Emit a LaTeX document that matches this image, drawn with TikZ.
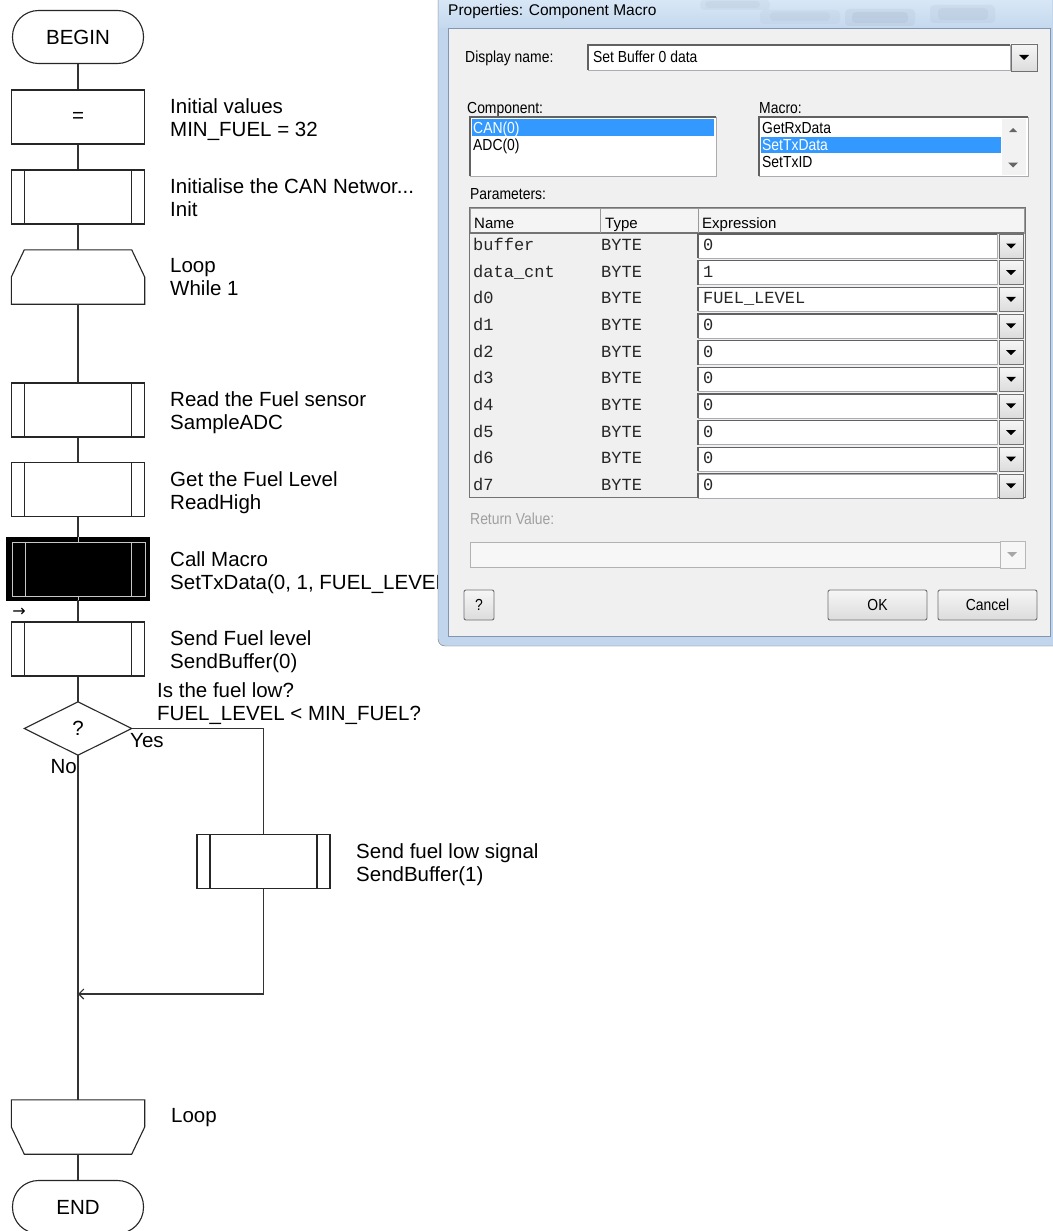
\documentclass[tikz,border=0pt]{standalone}
\usepackage{fontspec}
\setmainfont{Liberation Sans}
\newfontfamily\dlgfont[FakeStretch=0.87]{Liberation Sans}
\newfontfamily\dlgmono{Liberation Mono}
\newfontfamily\symfont{DejaVu Sans}
\usetikzlibrary{arrows.meta}
\definecolor{selblue}{RGB}{51,153,255}
\definecolor{clientbg}{RGB}{240,240,240}
\definecolor{frameA}{RGB}{193,214,236}
\definecolor{titleA}{RGB}{216,231,246}
\definecolor{titleB}{RGB}{196,216,238}
\definecolor{blotch}{RGB}{120,135,155}
\definecolor{clientedge}{RGB}{130,150,175}
\definecolor{btnA}{RGB}{246,246,246}
\definecolor{btnB}{RGB}{220,220,220}
\definecolor{btnedge}{RGB}{112,112,112}
\definecolor{fieldedge}{RGB}{170,172,178}
\definecolor{disabledtxt}{RGB}{160,160,160}
\definecolor{hdrbg}{RGB}{244,244,244}
\newcommand\dlgSunken[4]{\draw[draw=fieldedge, fill=white] (#1,#2) rectangle (#3,#4);
  \draw[draw=black!62, line width=1.2pt] (#1,#4) -- (#1,#2) -- (#3,#2);}
\newcommand\dlgRaised[4]{\draw[draw=btnedge, top color=btnA, bottom color=btnB] (#1,#2) rectangle (#3,#4);}
\newcommand\dlgDown[3]{\fill[#3] (#1-5,#2-2.5) -- (#1+5,#2-2.5) -- (#1,#2+2.5) -- cycle;}
\newcommand\dlgUp[3]{\fill[#3] (#1-4,#2+2) -- (#1+4,#2+2) -- (#1,#2-2) -- cycle;}
\begin{document}
\begin{tikzpicture}[x=1pt,y=-1pt,
  fc/.style={draw=black!85, line width=1.1pt},
  conn/.style={draw=black!80, line width=1.1pt},
  ffont/.style={font=\fontsize{20.5}{23}\selectfont},
  term/.style={fc, ffont, rounded corners=26pt, minimum width=131pt, minimum height=53pt, inner sep=0pt},
  procbox/.style={fc, ffont, minimum width=133pt, minimum height=54pt, inner sep=0pt},
  subbox/.style={procbox, path picture={
      \draw[line width=1.1pt, draw=black!85] ([xshift=13pt]path picture bounding box.north west) -- ([xshift=13pt]path picture bounding box.south west);
      \draw[line width=1.1pt, draw=black!85] ([xshift=-13pt]path picture bounding box.north east) -- ([xshift=-13pt]path picture bounding box.south east);}},
  blank/.style={minimum width=133pt, minimum height=54pt, inner sep=0pt, ffont},
  lbl/.style={anchor=base west, inner sep=0pt, ffont},
  callin/.style={draw=black!22, line width=1pt},
  dlbl/.style={anchor=base west, inner sep=0pt, font=\dlgfont\fontsize{16}{19}\selectfont},
  mono/.style={anchor=base west, inner sep=0pt, text=black!85, font=\dlgmono\fontsize{17}{20}\selectfont},
  hdr/.style={anchor=base west, inner sep=0pt, font=\fontsize{15}{18}\selectfont},
  btn/.style={draw=btnedge, top color=btnA, bottom color=btnB, rounded corners=2pt, line width=0.9pt,
      font=\dlgfont\fontsize{16}{19}\selectfont, inner sep=0pt, minimum height=30pt},
]
\useasboundingbox (0,0) rectangle (1052,1231);
\fill[white] (0,0) rectangle (1052,1231);

% ---------------- flowchart ----------------
\node[term] (begin) at (78,37) {BEGIN};
\node[procbox] (init) at (78,117) {=};
\node[subbox] (can) at (78,197) {};
\node[blank] (loopS) at (78,277) {};
\draw[fc] ([xshift=13pt]loopS.north west) -- ([xshift=-13pt]loopS.north east) -- (loopS.east)
  -- (loopS.south east) -- (loopS.south west) -- (loopS.west) -- cycle;
\node[subbox] (read) at (78,410) {};
\node[subbox] (get) at (78,489.5) {};
\node[fill=black, draw=black, minimum width=143pt, minimum height=63pt, inner sep=0pt] (call) at (78,568.5) {};
\draw[callin] ([xshift=6pt,yshift=-6pt]call.north west) rectangle ([xshift=-4pt,yshift=4pt]call.south east);
\draw[callin] ([xshift=19pt,yshift=-6pt]call.north west) -- ([xshift=19pt,yshift=4pt]call.south west);
\draw[callin] ([xshift=-18pt,yshift=-6pt]call.north east) -- ([xshift=-18pt,yshift=4pt]call.south east);
\draw[callin] (call.north) -- ++(0,6);
\draw[callin] (call.south) -- ++(0,-4);
\node[subbox] (send) at (78,649) {};
\node[blank, minimum width=107pt, minimum height=53pt] (dec) at (78,728.5) {?};
\draw[fc] (dec.west) -- (dec.north) -- (dec.east) -- (dec.south) -- cycle;
\node[subbox] (low) at (263.5,861.5) {};
\node[blank] (loopE) at (78,1127) {};
\draw[fc] (loopE.north west) -- (loopE.north east) -- (loopE.east)
  -- ([xshift=-13pt]loopE.south east) -- ([xshift=13pt]loopE.south west) -- (loopE.west) -- cycle;
\node[term] (end) at (78,1207) {END};
\coordinate (merge) at (78,994);

\draw[conn] (begin) -- (init);
\draw[conn] (init) -- (can);
\draw[conn] (can) -- (loopS);
\draw[conn] (loopS) -- (read);
\draw[conn] (read) -- (get);
\draw[conn] (get) -- (call);
\draw[conn] (call) -- (send);
\draw[conn] (send) -- (dec.north);
\draw[conn] (dec.east) -| (low.north);
\draw[conn, -{Straight Barb[length=5pt,width=10pt]}] (low.south) |- (merge);
\draw[conn] (dec.south) -- (loopE.north);
\draw[conn] (loopE) -- (end);

\node[inner sep=0pt, font=\symfont\fontsize{16}{16}\selectfont] (mark) at (19,612) {→};

\node[lbl] (l1a) at (170,113) {Initial values};
\node[lbl] (l1b) at (170,136) {MIN\_FUEL = 32};
\node[lbl] (l2a) at (170,193) {Initialise the CAN Networ...};
\node[lbl] (l2b) at (170,216) {Init};
\node[lbl] (l3a) at (170,272) {Loop};
\node[lbl] (l3b) at (170,295) {While 1};
\node[lbl] (l4a) at (170,406) {Read the Fuel sensor};
\node[lbl] (l4b) at (170,429) {SampleADC};
\node[lbl] (l5a) at (170,486) {Get the Fuel Level};
\node[lbl] (l5b) at (170,509) {ReadHigh};
\node[lbl] (l6a) at (170,566) {Call Macro};
\begin{scope}
\clip (0,540) rectangle (438,600);
\node[lbl] (l6b) at (170,589) {SetTxData(0, 1, FUEL\_LEVEL};
\end{scope}
\node[lbl] (l7a) at (170,645) {Send Fuel level};
\node[lbl] (l7b) at (170,668) {SendBuffer(0)};
\node[lbl] (q1) at (157,697) {Is the fuel low?};
\node[lbl] (q2) at (157,720) {FUEL\_LEVEL \textless{} MIN\_FUEL?};
\node[lbl] (yes) at (130,747) {Yes};
\node[lbl, anchor=base east] (no) at (77,773) {No};
\node[lbl] (l8a) at (356,858) {Send fuel low signal};
\node[lbl] (l8b) at (356,881) {SendBuffer(1)};
\node[lbl] (l9) at (171,1122) {Loop};

% ---------------- dialog ----------------
\draw[draw=black!55, fill=frameA, rounded corners=7pt] (438,-20) rectangle (1090,646);
\shade[top color=titleA, bottom color=titleB] (439,0) rectangle (1052,28);
\foreach \bx/\by/\bw/\bh/\op in {700/0/70/10/0.07, 705/1/55/7/0.07, 760/10/80/14/0.06, 770/12/60/9/0.06,
    845/9/70/17/0.09, 852/12/56/11/0.10, 930/5/65/18/0.08, 938/8/50/12/0.08}{
  \fill[blotch, opacity=\op, rounded corners=4pt] (\bx,\by) rectangle ++(\bw,\bh);
}
\node[anchor=base west, inner sep=0pt, font=\fontsize{15.5}{18}\selectfont] (title) at (448,15.5) {Properties: Component Macro};
\draw[draw=clientedge, fill=clientbg] (448,28) rectangle (1050,636);

% display name
\node[dlbl] (dnl) at (465,63) {Display name:};
\dlgSunken{588}{45}{1010}{70}
\dlgRaised{1011}{44}{1037}{71}
\dlgDown{1024}{57.5}{black}
\node[dlbl] (dnv) at (593,63) {Set Buffer 0 data};

% component list
\node[dlbl] (compl) at (467,113) {Component:};
\dlgSunken{470}{117}{716}{176}
\fill[selblue] (472,119) rectangle (714,136);
\node[dlbl, text=white] (c1) at (473,133) {CAN(0)};
\node[dlbl] (c2) at (473,150) {ADC(0)};

% macro list
\node[dlbl] (macl) at (759,113) {Macro:};
\dlgSunken{759}{117}{1028}{176}
\fill[black!5] (1002,119) rectangle (1026,175);
\dlgUp{1013}{130}{black!60}
\dlgDown{1013}{165}{black!60}
\fill[selblue] (761,137) rectangle (1001,153);
\node[dlbl] (m1) at (762,133) {GetRxData};
\node[dlbl, text=white] (m2) at (762,150) {SetTxData};
\node[dlbl] (m3) at (762,167) {SetTxID};

% parameters table
\node[dlbl] (parl) at (470,199) {Parameters:};
\draw[draw=black!55, fill=clientbg] (469,207) rectangle (1025,497);
\draw[draw=black!40, fill=hdrbg] (470,208) rectangle (1024,233);
\draw[draw=black!55, line width=1.2pt] (470,233) -- (1024,233);
\draw[draw=black!40] (600,208) -- (600,233);
\draw[draw=black!40] (698,208) -- (698,233);
\node[hdr] (hn) at (474,228) {Name};
\node[hdr] (ht) at (605,228) {Type};
\node[hdr] (he) at (702,228) {Expression};
\foreach \nm/\val [count=\i from 0] in {buffer/0, data\_cnt/1, d0/FUEL\_LEVEL, d1/0, d2/0, d3/0, d4/0, d5/0, d6/0, d7/0}{
  \pgfmathsetmacro\cy{246+26.65*\i}
  \node[mono] (pn\i) at (473,\cy+4.6) {\nm};
  \node[mono] (pt\i) at (601,\cy+4.6) {BYTE};
  \dlgSunken{698}{\cy-12}{997}{\cy+12}
  \node[mono] (pv\i) at (703,\cy+4.6) {\val};
  \dlgRaised{999}{\cy-12}{1023}{\cy+12}
  \dlgDown{1011}{\cy}{black}
}

% return value
\node[dlbl, text=disabledtxt] (rvl) at (470,524) {Return Value:};
\draw[draw=black!30, fill=black!3] (470,542) rectangle (1000,567);
\draw[draw=black!28, fill=btnA] (1000,541) rectangle (1025,568);
\dlgDown{1012}{554.5}{black!35}

% buttons
\node[btn, minimum width=30pt] (help) at (479,605) {?};
\node[btn, minimum width=99pt] (ok) at (877.5,605) {OK};
\node[btn, minimum width=99pt] (cancel) at (987.5,605) {Cancel};
\end{tikzpicture}
\end{document}
